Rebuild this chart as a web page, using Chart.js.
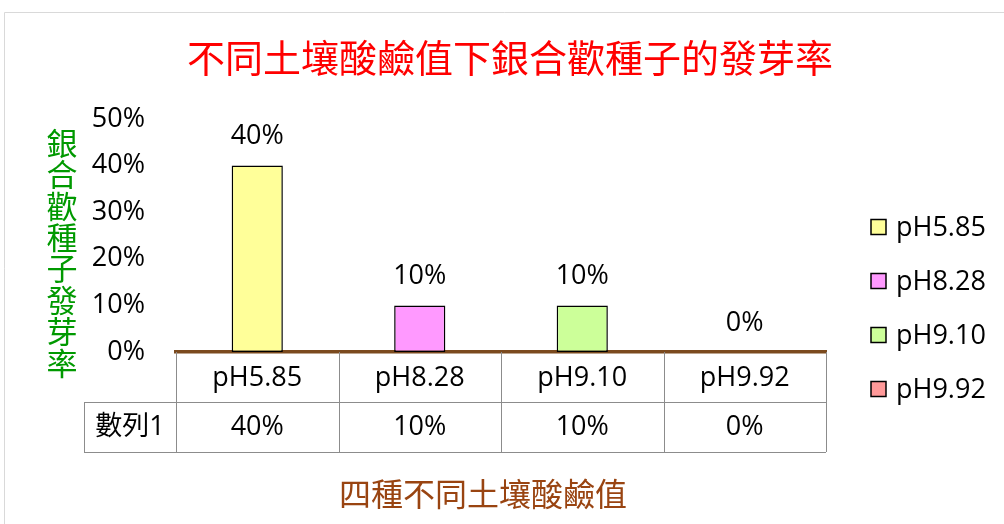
<!DOCTYPE html>
<html>
<head>
<meta charset="utf-8">
<script src="https://cdn.jsdelivr.net/npm/chart.js@4.4.0/dist/chart.umd.min.js"></script>
<style>
  body { margin: 0; background: #fff; }
  canvas { display: block; }
</style>
</head>
<body>
<canvas id="chart" width="1004" height="524"></canvas>
<script>
const categories = ['pH5.85', 'pH8.28', 'pH9.10', 'pH9.92'];
const seriesName = '數列1';
const rates = [0.4, 0.1, 0.1, 0];
const barColors = ['#ffff99', '#ff99ff', '#ccff99', '#ff9999'];
const yTicks = [0, 0.1, 0.2, 0.3, 0.4, 0.5];
const chartTitle = '不同土壤酸鹼值下銀合歡種子的發芽率';
const yTitle = '銀合歡種子發芽率';
const xTitle = '四種不同土壤酸鹼值';

const family = "'Open Sans', 'Noto Sans', 'Noto Sans CJK TC', sans-serif";
const cjk = "'Noto Sans CJK TC', 'Noto Sans CJK SC', sans-serif";
const pct = v => Math.round(v * 100) + '%';

// title, axis titles, data table and legend drawn by hand
const extras = {
    id: 'extras',
    beforeDraw(chart) {
        const ctx = chart.ctx;
        ctx.save();
        ctx.fillStyle = '#fff';
        ctx.fillRect(0, 0, chart.width, chart.height);
        ctx.strokeStyle = '#d9d9d9';
        ctx.lineWidth = 1;
        ctx.beginPath();
        ctx.moveTo(4.5, chart.height);
        ctx.lineTo(4.5, 12.5);
        ctx.lineTo(chart.width, 12.5);
        ctx.stroke();
        ctx.restore();
    },
    afterDatasetsDraw(chart) {
        const ctx = chart.ctx;
        const meta = chart.getDatasetMeta(0);
        ctx.save();
        ctx.fillStyle = '#000';
        ctx.font = '27px ' + family;
        ctx.textAlign = 'center';
        ctx.textBaseline = 'middle';
        meta.data.forEach((bar, i) => {
            ctx.fillText(pct(rates[i]), bar.x, bar.y - 29);
        });
        ctx.restore();
    },
    afterDraw(chart) {
        const ctx = chart.ctx;
        const area = chart.chartArea;
        const x = chart.scales.x;
        ctx.save();

        // title
        ctx.textAlign = 'center';
        ctx.textBaseline = 'middle';
        ctx.fillStyle = '#ff0000';
        ctx.font = '38px ' + cjk;
        ctx.fillText(chartTitle, 510, 58);

        // y title, one character per line
        ctx.fillStyle = '#009900';
        ctx.font = '31px ' + cjk;
        [...yTitle].forEach((ch, i) => ctx.fillText(ch, 62, 143 + i * 31.4));

        // x title
        ctx.fillStyle = '#994411';
        ctx.font = '32px ' + cjk;
        ctx.fillText(xTitle, 483, 494);

        // data table
        const rowH = 50;
        const top = area.bottom;
        const headLeft = 84;
        ctx.strokeStyle = '#8c8c8c';
        ctx.lineWidth = 1;
        ctx.beginPath();
        ctx.moveTo(headLeft, top + rowH + 0.5);
        ctx.lineTo(area.right, top + rowH + 0.5);
        ctx.moveTo(headLeft, top + 2 * rowH + 0.5);
        ctx.lineTo(area.right, top + 2 * rowH + 0.5);
        ctx.moveTo(headLeft + 0.5, top + rowH);
        ctx.lineTo(headLeft + 0.5, top + 2 * rowH);
        const step = (area.right - area.left) / categories.length;
        for (let i = 0; i <= categories.length; i++) {
            const lx = Math.round(area.left + i * step) + 0.5;
            ctx.moveTo(lx, top);
            ctx.lineTo(lx, top + 2 * rowH);
        }
        ctx.stroke();

        ctx.fillStyle = '#000';
        ctx.font = '27px ' + family;
        ctx.fillText(seriesName, (headLeft + area.left) / 2, top + rowH * 1.5);
        rates.forEach((v, i) => {
            ctx.fillText(pct(v), x.getPixelForValue(i), top + rowH * 1.5);
        });

        // legend
        const legX = 871;
        const legTop = 227;
        const legStep = 54;
        const box = 15;
        ctx.textAlign = 'left';
        categories.forEach((c, i) => {
            const cy = legTop + i * legStep;
            ctx.fillStyle = barColors[i];
            ctx.fillRect(legX, cy - box / 2, box, box);
            ctx.strokeStyle = '#000';
            ctx.lineWidth = 1.5;
            ctx.strokeRect(legX, cy - box / 2, box, box);
            ctx.fillStyle = '#000';
            ctx.font = '27px ' + family;
            ctx.fillText(c, legX + 25, cy + 1);
        });
        ctx.restore();
    }
};

new Chart(document.getElementById('chart'), {
    type: 'bar',
    data: {
        labels: categories,
        datasets: [{
            label: seriesName,
            data: rates,
            backgroundColor: barColors,
            borderColor: '#000',
            borderWidth: 1.5,
            borderSkipped: false,
            barPercentage: 0.315,
            categoryPercentage: 1
        }]
    },
    options: {
        responsive: false,
        animation: false,
        layout: {
            padding: { left: 0, right: 178, top: 119, bottom: 72 }
        },
        plugins: {
            legend: { display: false },
            title: { display: false },
            tooltip: { enabled: false }
        },
        scales: {
            x: {
                z: 1,
                grid: { display: false, drawTicks: false },
                border: { display: true, color: '#7b4a1e', width: 3.5 },
                ticks: {
                    color: '#000',
                    font: { family: family, size: 27 },
                    padding: 10,
                    maxRotation: 0
                },
                afterFit: s => { s.height = 100; }
            },
            y: {
                min: 0,
                max: 0.5,
                grid: { display: false, drawTicks: false },
                border: { display: false },
                ticks: {
                    color: '#000',
                    font: { family: family, size: 27 },
                    padding: 31,
                    callback: v => pct(v)
                },
                afterBuildTicks: s => { s.ticks = yTicks.map(v => ({ value: v })); },
                afterFit: s => { s.width = 176; }
            }
        }
    },
    plugins: [extras]
});
</script>
</body>
</html>
